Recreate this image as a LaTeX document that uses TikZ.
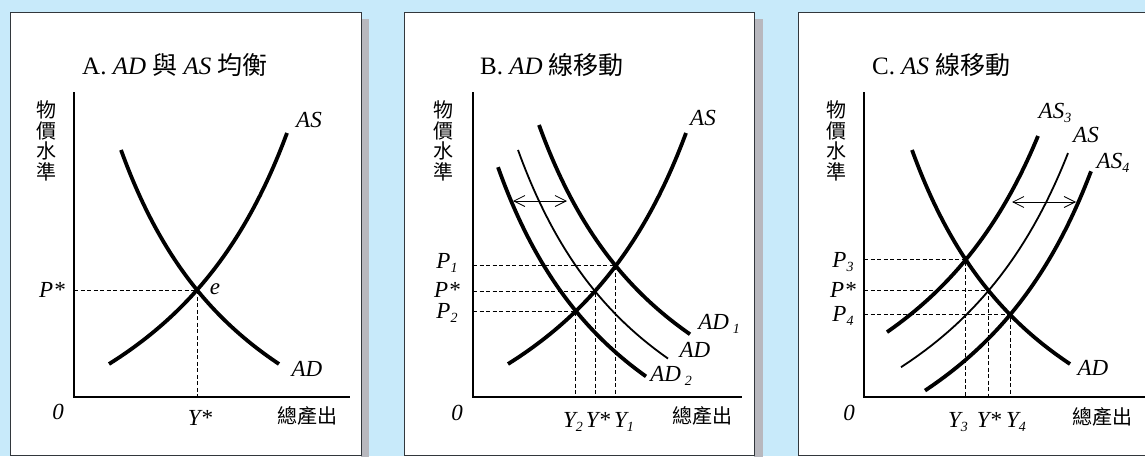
\documentclass[tikz,border=0pt]{standalone}
\usepackage{fontspec}
\setmainfont{Liberation Serif}
\newfontfamily\cjk{Noto Sans CJK TC}
\usetikzlibrary{intersections,arrows.meta}

\definecolor{bgblue}{RGB}{200,234,250}
\definecolor{shadowgray}{RGB}{184,184,190}
\definecolor{framegray}{RGB}{50,55,60}

\newcommand\ADf[1]{569.6-637/((#1+30.8)/100)}
\newcommand\ASf[1]{579-739/((452.7-#1)/100)}
\newcommand\mysub[1]{\raisebox{-0.35ex}{\fontsize{14}{14}\selectfont\itshape #1}}

\tikzset{
  thickc/.style={line width=3.8pt, line join=round},
  thinc/.style={line width=1.8pt, line join=round},
  axisl/.style={line width=1.3pt},
  guide/.style={line width=0.8pt, dash pattern=on 4pt off 2.5pt},
  lbl/.style={font=\fontsize{23}{23}\selectfont\itshape, inner sep=0pt},
  ttl/.style={font=\fontsize{25}{25}\selectfont, anchor=base west, inner sep=0pt},
  cjkl/.style={font=\cjk\fontsize{20}{20.5}\selectfont, inner sep=0pt, align=center},
  shiftarrow/.style={line width=0.8pt, {Straight Barb[length=11pt,width=11pt]}-{Straight Barb[length=11pt,width=11pt]}},
  panel/.style={draw=framegray, line width=1pt, fill=white}
}

\begin{document}
\begin{tikzpicture}[x=1pt,y=-1pt]
\useasboundingbox (0,0) rectangle (1145,456);
\fill[bgblue] (0,0) rectangle (1145,456);

% shadows and frames
\fill[shadowgray] (361,19) rectangle (369,460);
\fill[shadowgray] (754,19) rectangle (763,460);
\path[panel] (10,12) rectangle (361,455);
\path[panel] (404,12) rectangle (754,455);
\path[panel] (798,12) rectangle (1152,455);

% ================= Panel A =================
\node[ttl] (tA) at (82,74) {A. \textit{AD} {\cjk 與} \textit{AS} {\cjk 均衡}};
\coordinate (oA) at (74,397);
\coordinate (ytA) at (74,92);
\coordinate (xeA) at (350,397);
\draw[axisl] (ytA) -- (oA) -- (xeA);
\node[cjkl] (vA) at (46,141) {物\\價\\水\\準};
\node[lbl] (zA) at (58,412) {0};
\node[cjkl] (xlA) at (307,416) {總產出};

\draw[thickc, name path=adA] plot[domain=121:279, samples=60] (\x,{\ADf{\x}});
\draw[thickc, name path=asA] plot[domain=109:287, samples=60] (\x,{\ASf{\x}});
\path[name intersections={of=adA and asA, by=eA}];
\draw[guide] (oA |- eA) -- (eA) -- (eA |- oA);

\node[lbl] (pA) at (52,290) {P*};
\node[lbl] (eLA) at (215,289) {e};
\node[lbl] (yA) at (200,418) {Y*};
\node[lbl] (asLA) at (309,120) {AS};
\node[lbl] (adLA) at (307,369) {AD};

% ================= Panel B =================
\node[ttl] (tB) at (480,74) {B. \textit{AD} {\cjk 線移動}};
\coordinate (oB) at (473,397);
\coordinate (ytB) at (473,92);
\coordinate (xeB) at (742,397);
\draw[axisl] (ytB) -- (oB) -- (xeB);
\node[cjkl] (vB) at (443,141) {物\\價\\水\\準};
\node[lbl] (zB) at (457,413) {0};
\node[cjkl] (xlB) at (702,416) {總產出};

\draw[thickc, name path=asB, shift={(399,0)}] plot[domain=109:287, samples=60] (\x,{\ASf{\x}});
\draw[thinc, name path=adB, shift={(397,0)}] plot[domain=121:271, samples=60] (\x,{\ADf{\x}});
\draw[thickc, name path=adB1, shift={(418,-25)}] plot[domain=121:272, samples=60] (\x,{\ADf{\x}});
\draw[thickc, name path=adB2, shift={(378,20)}] plot[domain=120:268, samples=60] (\x,{\ADf{\x}});

\path[name intersections={of=adB and asB, by=eB}];
\path[name intersections={of=adB1 and asB, by=eB1}];
\path[name intersections={of=adB2 and asB, by=eB2}];
\draw[guide] (oB |- eB) -- (eB) -- (eB |- oB);
\draw[guide] (oB |- eB1) -- (eB1) -- (eB1 |- oB);
\draw[guide] (oB |- eB2) -- (eB2) -- (eB2 |- oB);

\coordinate (arBl) at (513,201);
\coordinate (arBr) at (567,201);
\draw[shiftarrow] (arBl) -- (arBr);

\node[lbl] (p1B) at (447,263) {P\mysub{1}};
\node[lbl] (psB) at (447,290) {P*};
\node[lbl] (p2B) at (447,313) {P\mysub{2}};
\node[lbl] (y2B) at (573,422) {Y\mysub{2}};
\node[lbl] (ysB) at (598,420) {Y*};
\node[lbl] (y1B) at (624,422) {Y\mysub{1}};
\node[lbl] (asLB) at (703,118) {AS};
\node[lbl] (ad1LB) at (719,324) {AD\,\mysub{1}};
\node[lbl] (adLB) at (695,350) {AD};
\node[lbl] (ad2LB) at (671,376) {AD\,\mysub{2}};

% ================= Panel C =================
\node[ttl] (tC) at (872,74) {C. \textit{AS} {\cjk 線移動}};
\coordinate (oC) at (864,397);
\coordinate (ytC) at (864,92);
\coordinate (xeC) at (1145,397);
\draw[axisl] (ytC) -- (oC) -- (xeC);
\node[cjkl] (vC) at (836,141) {物\\價\\水\\準};
\node[lbl] (zC) at (849,413) {0};
\node[cjkl] (xlC) at (1102,417) {總產出};

\draw[thickc, name path=adC, shift={(791,0)}] plot[domain=121:279, samples=60] (\x,{\ADf{\x}});
\draw[thickc, name path=asC3, shift={(760,-20)}] plot[domain=127:278, samples=60] (\x,{\ASf{\x}});
\draw[thinc, name path=asC, shift={(786,7)}] plot[domain=115:282, samples=60] (\x,{\ASf{\x}});
\draw[thickc, name path=asC4, shift={(806,33)}] plot[domain=119:285, samples=60] (\x,{\ASf{\x}});

\path[name intersections={of=adC and asC, by=eC}];
\path[name intersections={of=adC and asC3, by=eC3}];
\path[name intersections={of=adC and asC4, by=eC4}];
\draw[guide] (oC |- eC) -- (eC) -- (eC |- oC);
\draw[guide] (oC |- eC3) -- (eC3) -- (eC3 |- oC);
\draw[guide] (oC |- eC4) -- (eC4) -- (eC4 |- oC);

\coordinate (arCl) at (1012,202);
\coordinate (arCr) at (1076,202);
\draw[shiftarrow] (arCl) -- (arCr);

\node[lbl] (p3C) at (843,262) {P\mysub{3}};
\node[lbl] (psC) at (843,290) {P*};
\node[lbl] (p4C) at (843,316) {P\mysub{4}};
\node[lbl] (y3C) at (958,422) {Y\mysub{3}};
\node[lbl] (ysC) at (989,420) {Y*};
\node[lbl] (y4C) at (1016,422) {Y\mysub{4}};
\node[lbl] (as3LC) at (1055,113) {AS\mysub{3}};
\node[lbl] (asLC) at (1086,135) {AS};
\node[lbl] (as4LC) at (1113,163) {AS\mysub{4}};
\node[lbl] (adLC) at (1093,368) {AD};
\end{tikzpicture}
\end{document}
